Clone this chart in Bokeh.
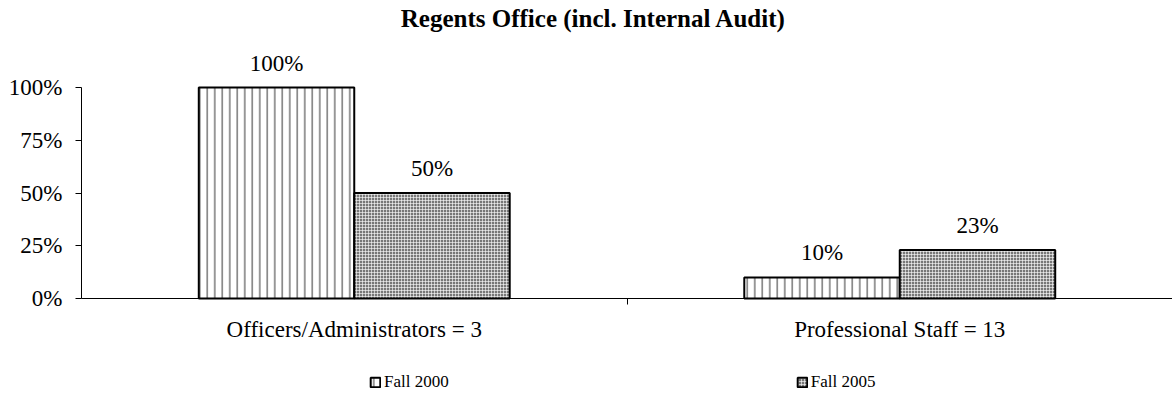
from bokeh.plotting import figure
from bokeh.models import (ColumnDataSource, Range1d, FixedTicker, NumeralTickFormatter,
                          Legend, LegendItem, Label)
from bokeh.core.properties import value
from bokeh.embed import file_html
from bokeh.resources import INLINE

categories = ["Officers/Administrators = 3", "Professional Staff = 13"]
series = ["Fall 2000", "Fall 2005"]
fall_2000 = [1.00, 0.10]
fall_2005 = [0.50, 0.23]
y_ticks = [0, 0.25, 0.5, 0.75, 1.0]

FONT = "Liberation Serif"
FS = "23px"

# layout: y=0 at 298px, y=1 at 87px; x=0 at 81px, x=2 at 1172px (frame fills the canvas)
W, H = 1172, 406
ppu_y = 211.0
ppu_x = (W - 81) / len(categories)
y_lo, y_hi = -(H - 298) / ppu_y, 298 / ppu_y
x_lo, x_hi = -81 / ppu_x, len(categories)

p = figure(width=W, height=H, output_backend="svg", toolbar_location=None,
           x_range=Range1d(x_lo, x_hi), y_range=Range1d(y_lo, y_hi),
           min_border_left=0, min_border_right=0, min_border_top=0, min_border_bottom=0)
p.outline_line_color = None
p.xgrid.visible = False
p.ygrid.visible = False
p.background_fill_color = "white"

centers = [i + 0.5 for i in range(len(categories))]
bw = 0.285
src1 = ColumnDataSource(dict(x=[c - bw / 2 for c in centers], top=fall_2000,
                             lab=[f"{round(v*100)}%" for v in fall_2000]))
src2 = ColumnDataSource(dict(x=[c + bw / 2 for c in centers], top=fall_2005,
                             lab=[f"{round(v*100)}%" for v in fall_2005]))

r1 = p.vbar(x="x", top="top", width=bw, source=src1, fill_color="white",
            line_color="black", line_width=2, hatch_pattern="|", hatch_color="#333333",
            hatch_scale=7.5, hatch_weight=1)
r2 = p.vbar(x="x", top="top", width=bw, source=src2, fill_color="#777777",
            line_color="black", line_width=2, hatch_pattern="+", hatch_color="white",
            hatch_scale=3, hatch_weight=1, hatch_alpha=0.6)

for s in (src1, src2):
    p.text(x="x", y="top", text="lab", source=s, text_align="center",
           text_baseline="bottom", y_offset=-12, text_font=value(FONT),
           text_font_size=FS, text_color="black")

# axes
xa = p.xaxis[0]
xa.fixed_location = 0
xa.bounds = (0, len(categories))
xa.ticker = FixedTicker(ticks=centers, minor_ticks=[i for i in range(1, len(categories))])
xa.major_label_overrides = {c: categories[i] for i, c in enumerate(centers)}
xa.major_tick_line_color = None
xa.minor_tick_in = 0
xa.minor_tick_out = 6
xa.minor_tick_line_color = "black"
xa.axis_line_color = "black"
xa.major_label_text_font = FONT
xa.major_label_text_font_size = FS
xa.major_label_text_color = "black"
xa.major_label_standoff = 12

ya = p.yaxis[0]
ya.fixed_location = 0
ya.ticker = FixedTicker(ticks=y_ticks)
ya.bounds = (0, 1)
ya.formatter = NumeralTickFormatter(format="0%")
ya.major_tick_in = 0
ya.major_tick_out = 6
ya.minor_tick_line_color = None
ya.axis_line_color = "black"
ya.major_tick_line_color = "black"
ya.major_label_text_font = FONT
ya.major_label_text_font_size = FS
ya.major_label_text_color = "black"
ya.major_label_standoff = 13

legend = Legend(items=[LegendItem(label=series[0], renderers=[r1]),
                       LegendItem(label=series[1], renderers=[r2])],
                orientation="horizontal", location=(369, 14), spacing=347,
                glyph_width=12, glyph_height=12, label_standoff=3, padding=0, margin=0,
                border_line_color=None, background_fill_alpha=0,
                label_text_font=FONT, label_text_font_size="17px", label_text_color="black")
p.add_layout(legend, "center")

title = Label(x=593, y=H - 18, x_units="screen", y_units="screen",
              text="Regents Office (incl. Internal Audit)", text_align="center",
              text_baseline="middle", text_font=FONT, text_font_size="25px",
              text_font_style="bold", text_color="black")
p.add_layout(title)

open("out.html", "w").write(file_html(p, INLINE))
